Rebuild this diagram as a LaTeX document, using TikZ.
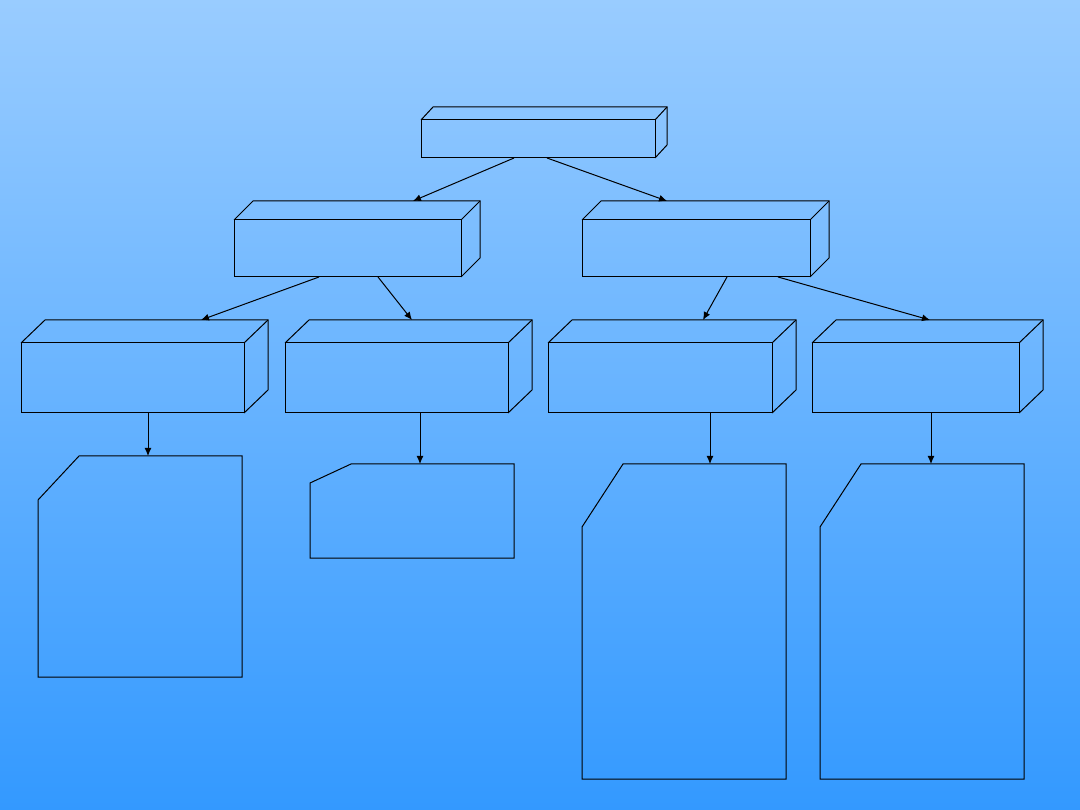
\documentclass[tikz,border=0pt]{standalone}
\usetikzlibrary{arrows.meta}
\definecolor{bgtop}{RGB}{153,204,255}
\definecolor{bgbot}{RGB}{51,153,255}
\tikzset{
  edge/.style={draw=black,line width=1pt,line join=miter},
  arr/.style={draw=black,line width=1pt,-{Latex[length=8pt,width=7pt]}},
  face/.style={draw=black,line width=1pt,rectangle,inner sep=0pt,outer sep=0pt,anchor=north west}
}
% \cube{name}{x1}{y1}{x2}{y2}{dx}{dy}
\newcommand{\mycube}[7]{%
  \node[face,minimum width=#4pt-#2pt,minimum height=#5pt-#3pt] (#1) at (#2,#3) {};
  \draw[edge] (#1.north west) -- ++(#6,-#7) -- ([xshift=#6pt,yshift=#7pt]#1.north east) -- ([xshift=#6pt,yshift=#7pt]#1.south east) -- (#1.south east);
  \draw[edge] (#1.north east) -- ++(#6,-#7);
}
\begin{document}
\begin{tikzpicture}[x=1pt,y=-1pt]
\shade[top color=bgtop,bottom color=bgbot] (0,0) rectangle (1080,810);
\useasboundingbox (0,0) rectangle (1080,810);

\mycube{top}{421}{120}{655}{158}{12}{13}
\mycube{la}{234}{220}{461}{277}{19}{19}
\mycube{lb}{582}{220}{810}{277}{19}{19}
\mycube{ba}{21}{343}{244}{413}{24}{23}
\mycube{bb}{285}{343}{508}{413}{24}{23}
\mycube{bc}{548}{343}{772}{413}{24}{23}
\mycube{bd}{812}{343}{1019}{413}{24}{23}

% cards
\draw[edge] (79,456) -- (242,456) -- (242,677) -- (38,677) -- (38,500) -- cycle;
\draw[edge] (351,464) -- (514,464) -- (514,558) -- (310,558) -- (310,483) -- cycle;
\draw[edge] (623,464) -- (786,464) -- (786,779) -- (582,779) -- (582,527) -- cycle;
\draw[edge] (861,464) -- (1024,464) -- (1024,779) -- (820,779) -- (820,527) -- cycle;

% connector ends
\coordinate (s1) at (514,158); \coordinate (e1) at (413,201);
\coordinate (s2) at (547,158); \coordinate (e2) at (667,201);
\coordinate (s3) at (319,277); \coordinate (e3) at (201,320);
\coordinate (s4) at (378,277); \coordinate (e4) at (412,320);
\coordinate (s5) at (727,277); \coordinate (e5) at (703,320);
\coordinate (s6) at (778,277); \coordinate (e6) at (930,320);
\coordinate (s7) at (148,413); \coordinate (e7) at (148,456);
\coordinate (s8) at (420,413); \coordinate (e8) at (420,464);
\coordinate (s9) at (710,413); \coordinate (e9) at (710,464);
\coordinate (s10) at (931,413); \coordinate (e10) at (931,464);
\foreach \i in {1,...,10} { \draw[arr] (s\i) -- (e\i); }
\end{tikzpicture}
\end{document}
